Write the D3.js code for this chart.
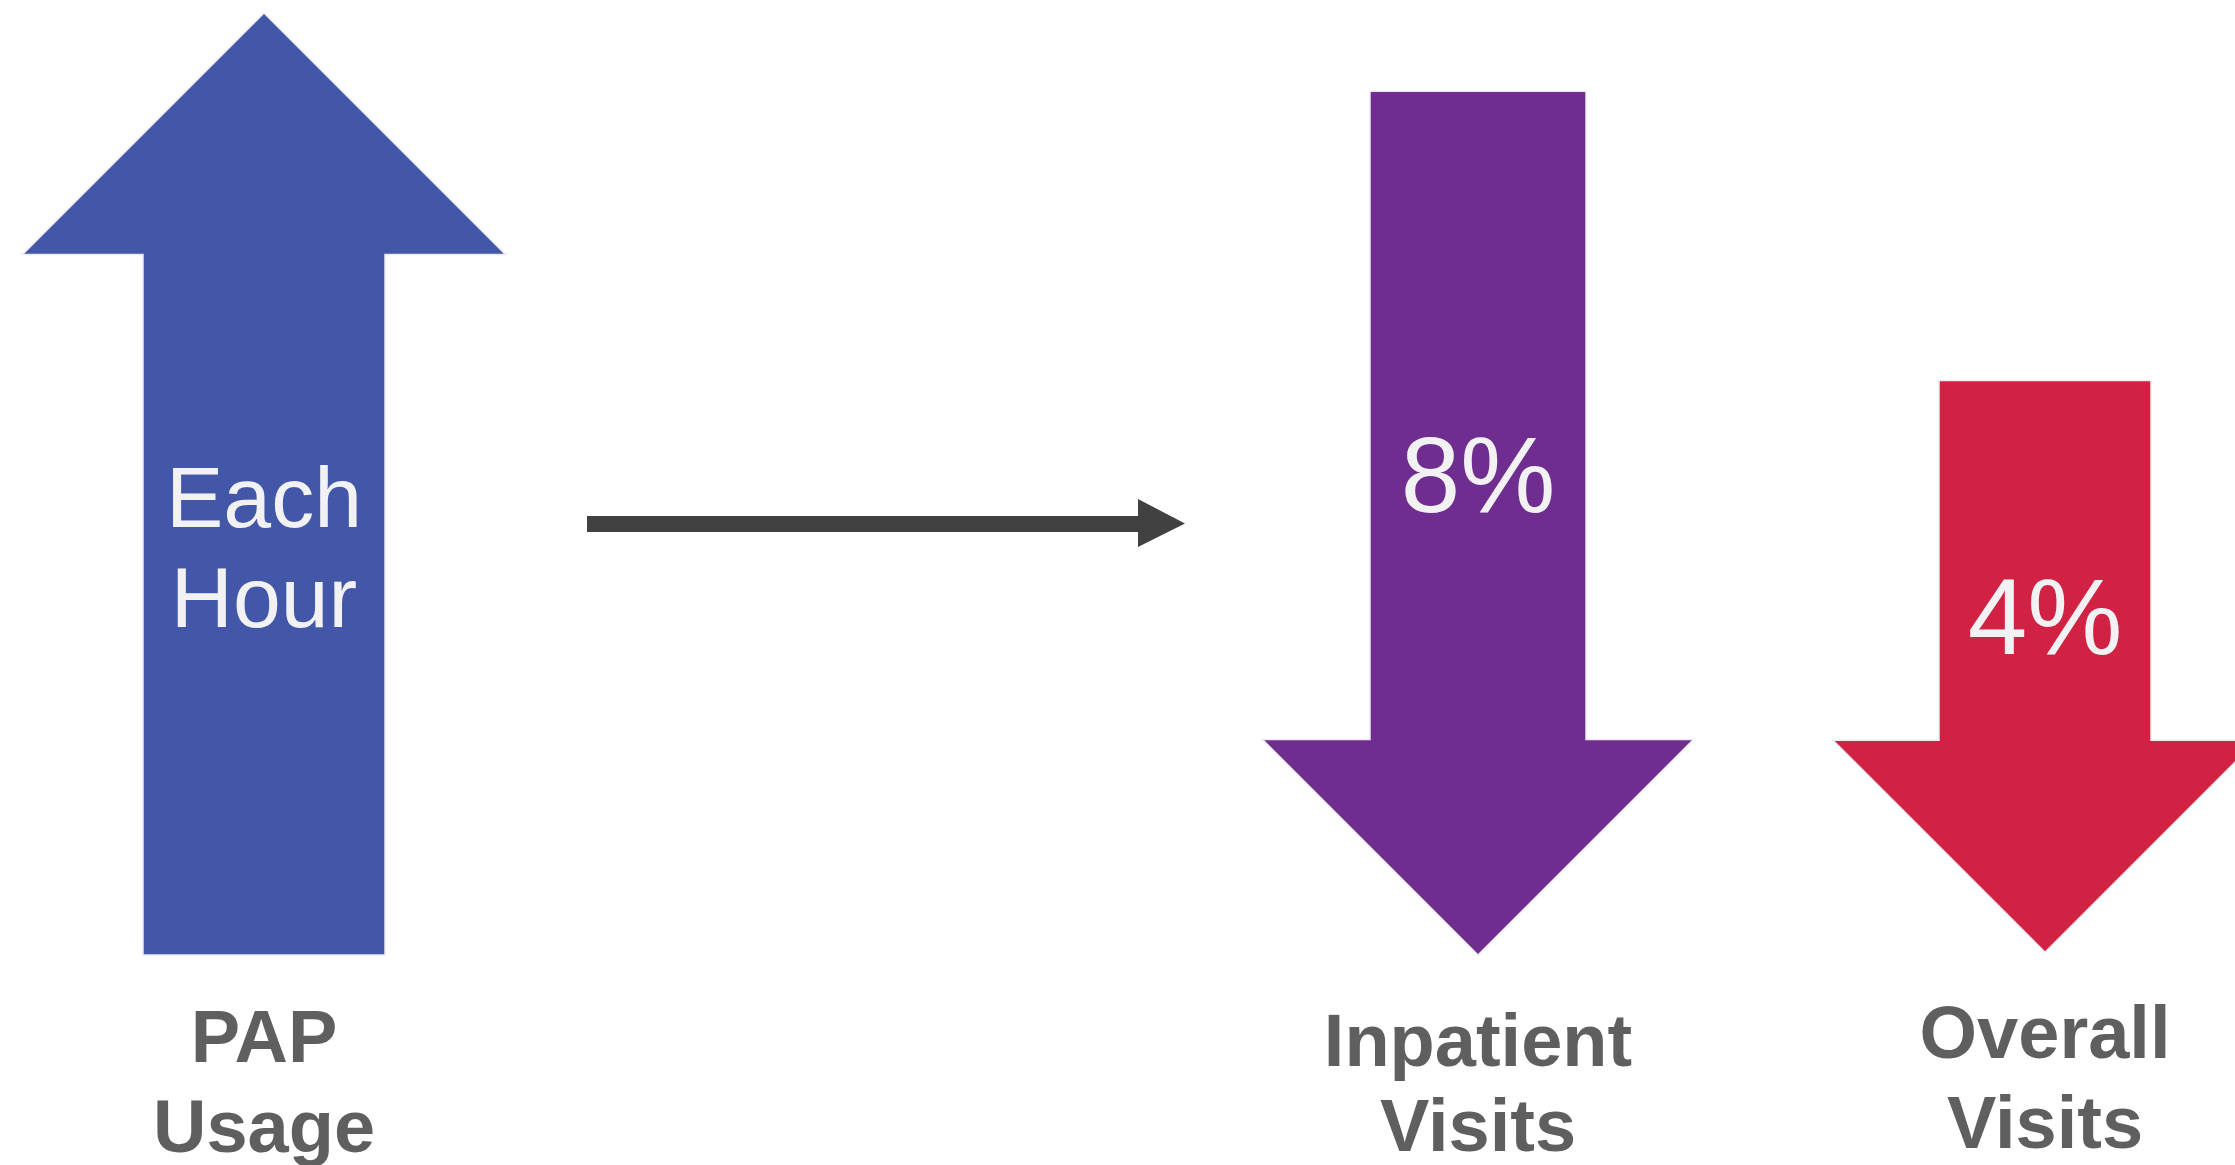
<!DOCTYPE html>
<html>
<head>
<meta charset="utf-8">
<script src="https://cdn.jsdelivr.net/npm/d3@7"></script>
<style>
  html, body { margin: 0; padding: 0; background: #ffffff; overflow: hidden; }
  svg { display: block; }
</style>
</head>
<body>
<div id="chart"></div>
<script>
// ---- data ----
const categories = ["PAP Usage", "Inpatient Visits", "Overall Visits"];
const labelLines = [["PAP", "Usage"], ["Inpatient", "Visits"], ["Overall", "Visits"]];
const directions = ["up", "down", "down"];
const innerText = [["Each", "Hour"], ["8%"], ["4%"]];
const arrowTop = [100, 91.7, 61];   // height reached by each arrow (0-100 scale)
const arrowBottom = [0, 0, 0.3];
const colors = ["#4257a7", "#6f2d8f", "#d22244"];

const W = 2235, H = 1165;
const svg = d3.select("#chart").append("svg").attr("width", W).attr("height", H);

const x = d3.scaleOrdinal().domain(categories).range([264, 1478, 2045]);
const shaftW = d3.scaleOrdinal().domain(categories).range([242, 216, 212]);
const headHalf = d3.scaleOrdinal().domain(categories).range([241.5, 215.5, 212]);
const y = d3.scaleLinear().domain([0, 100]).range([955, 13]);

function arrowPath(i) {
  const c = categories[i];
  const cx = x(c), sw = shaftW(c) / 2, hh = headHalf(c);
  const top = y(arrowTop[i]), bot = y(arrowBottom[i]);
  const p = d3.path();
  if (directions[i] === "up") {
    const base = top + hh;
    p.moveTo(cx, top);
    p.lineTo(cx + hh, base);
    p.lineTo(cx + sw, base);
    p.lineTo(cx + sw, bot);
    p.lineTo(cx - sw, bot);
    p.lineTo(cx - sw, base);
    p.lineTo(cx - hh, base);
  } else {
    const base = bot - hh;
    p.moveTo(cx - sw, top);
    p.lineTo(cx + sw, top);
    p.lineTo(cx + sw, base);
    p.lineTo(cx + hh, base);
    p.lineTo(cx, bot);
    p.lineTo(cx - hh, base);
    p.lineTo(cx - sw, base);
  }
  p.closePath();
  return p.toString();
}

svg.selectAll("path.arrow")
  .data(categories)
  .join("path")
  .attr("class", "arrow")
  .attr("d", (d, i) => arrowPath(i))
  .attr("fill", (d, i) => colors[i])
  .attr("stroke", "#ececf2")
  .attr("stroke-width", 1.5)
  .attr("stroke-linejoin", "miter");

// inner texts
const innerBaselines = [[527, 627], [512], [654]];
const innerSizes = [86, 107, 107];
svg.selectAll("text.inner")
  .data(categories)
  .join("text")
  .attr("class", "inner")
  .attr("text-anchor", "middle")
  .attr("fill", "#f2f2f4")
  .style("font-family", "'Liberation Sans', Arial, sans-serif")
  .style("font-size", (d, i) => innerSizes[i] + "px")
  .each(function(d, i) {
    d3.select(this).selectAll("tspan")
      .data(innerText[i])
      .join("tspan")
      .attr("x", x(d))
      .attr("y", (t, j) => innerBaselines[i][j])
      .text(t => t);
  });

// bottom labels
const labelBaselines = [[1062, 1152], [1066, 1151], [1058, 1148]];
svg.selectAll("text.label")
  .data(categories)
  .join("text")
  .attr("class", "label")
  .attr("text-anchor", "middle")
  .attr("fill", "#5f5f5f")
  .style("font-family", "'Liberation Sans', Arial, sans-serif")
  .style("font-weight", "bold")
  .style("font-size", "74px")
  .each(function(d, i) {
    d3.select(this).selectAll("tspan")
      .data(labelLines[i])
      .join("tspan")
      .attr("x", x(d))
      .attr("y", (t, j) => labelBaselines[i][j])
      .text(t => t);
  });

// connector arrow
const conn = d3.path();
conn.moveTo(587, 516);
conn.lineTo(1138, 516);
conn.lineTo(1138, 499);
conn.lineTo(1185, 523.5);
conn.lineTo(1138, 547);
conn.lineTo(1138, 532);
conn.lineTo(587, 532);
conn.closePath();
svg.append("path").attr("d", conn.toString()).attr("fill", "#414141");
</script>
</body>
</html>
